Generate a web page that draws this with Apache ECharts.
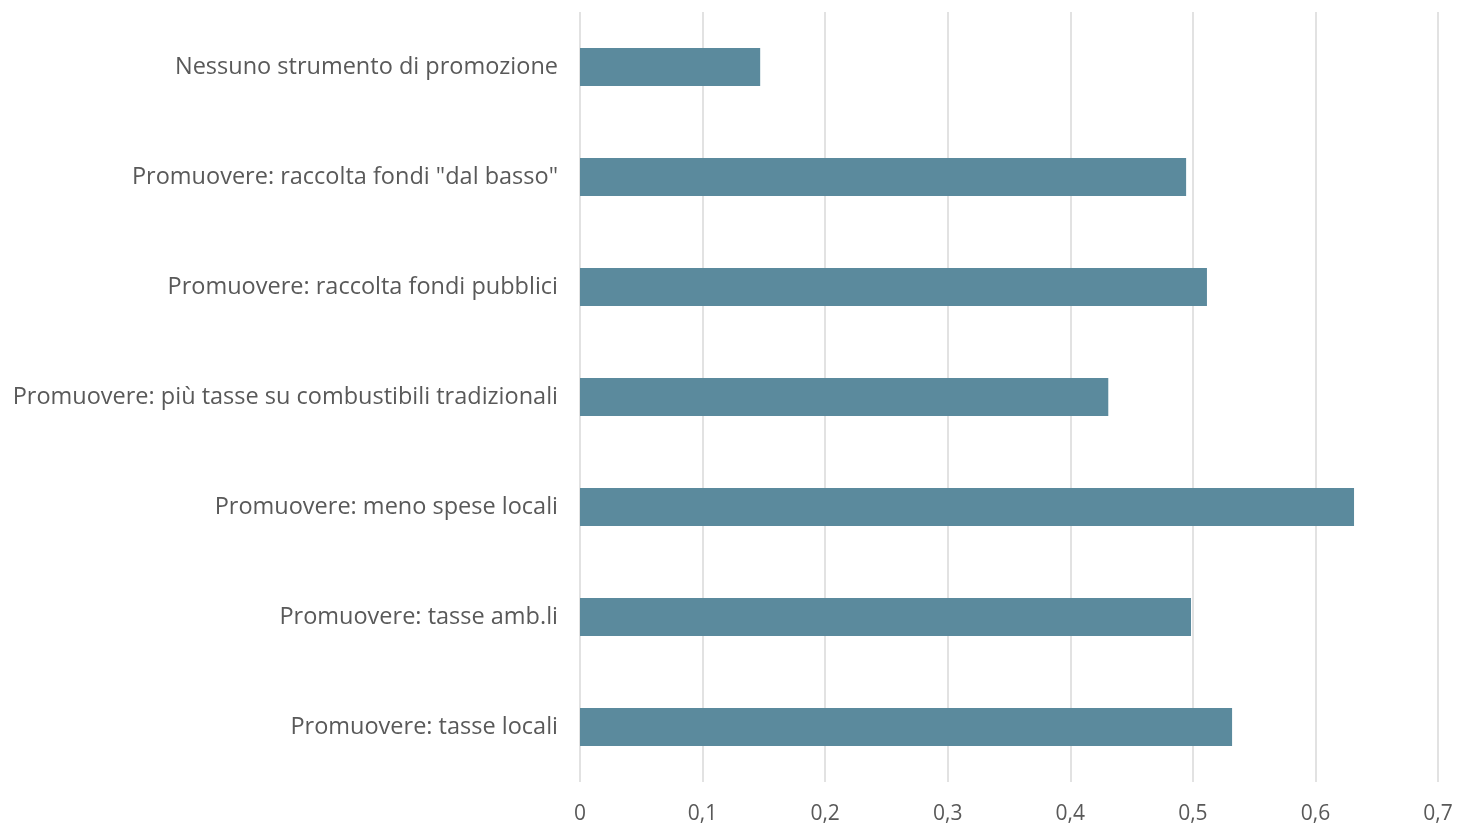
<!DOCTYPE html>
<html>
<head>
<meta charset="utf-8">
<script src="https://cdn.jsdelivr.net/npm/echarts@6/dist/echarts.min.js"></script>
<style>html,body{margin:0;padding:0;background:#fff}#c{width:1460px;height:825px}</style>
</head>
<body>
<div id="c"></div>
<script>
const categories = [
  "Promuovere: tasse locali",
  "Promuovere: tasse amb.li",
  "Promuovere: meno spese locali",
  "Promuovere: più tasse su combustibili tradizionali",
  "Promuovere: raccolta fondi pubblici",
  "Promuovere: raccolta fondi \"dal basso\"",
  "Nessuno strumento di promozione"
];
const values = [0.532, 0.4985, 0.6315, 0.431, 0.5115, 0.4945, 0.147];
const xTicks = [0, 0.1, 0.2, 0.3, 0.4, 0.5, 0.6, 0.7];

const chart = echarts.init(document.getElementById('c'));
chart.setOption({
  animation: false,
  grid: { left: 580, right: 22, top: 12, bottom: 43, containLabel: false },
  xAxis: {
    type: 'value', min: 0, max: 0.7, interval: 0.1,
    axisLine: { show: false }, axisTick: { show: false },
    splitLine: { show: true, lineStyle: { color: '#d9d9d9', width: 1.5 } },
    axisLabel: {
      color: '#595959', fontFamily: 'Open Sans', fontSize: 21, margin: 22,
      formatter: v => { const t = xTicks.find(x => Math.abs(x - v) < 1e-9); return String(+((t!==undefined?t:v).toFixed(1))).replace('.', ','); }
    }
  },
  yAxis: {
    type: 'category', data: categories,
    axisLine: { show: false }, axisTick: { show: false },
    axisLabel: { color: '#595959', fontFamily: 'Open Sans', fontSize: 23.5, margin: 22, padding: [3, 0, 0, 0] }
  },
  series: [{
    type: 'bar', data: values, barWidth: 38,
    itemStyle: { color: '#5b8a9d' }
  }]
});
</script>
</body>
</html>
